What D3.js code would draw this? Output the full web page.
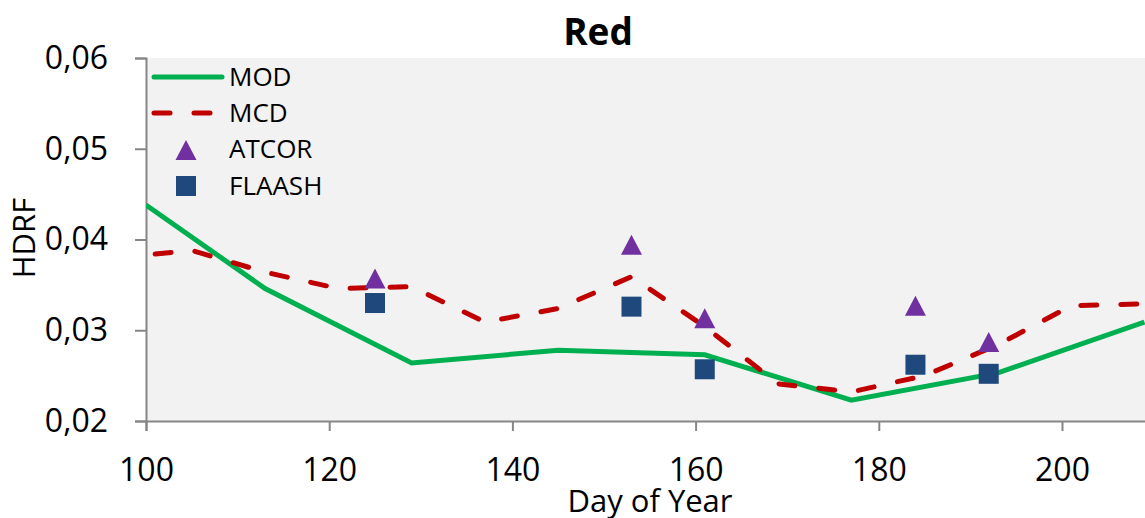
<!DOCTYPE html>
<html>
<head>
<meta charset="utf-8">
<script src="https://cdn.jsdelivr.net/npm/d3@7"></script>
<style>
  body { margin: 0; background: #fff; }
  svg { display: block; font-family: "Open Sans", sans-serif; }
</style>
</head>
<body>
<div class="svg-container"></div>
<script>
// MODIS product (MOD) - solid green
var modDays   = [100, 113, 129, 145, 161, 177, 193, 209];
var modValues = [0.0438, 0.0346, 0.0264, 0.0278, 0.0273, 0.0223, 0.0253, 0.0309];

// MCD product - dashed red
var mcdDays   = [101, 105, 113, 121, 129, 137, 145, 153, 161, 169, 177, 185, 193, 201, 209];
var mcdValues = [0.0384, 0.0388, 0.0364, 0.0346, 0.0348, 0.0309, 0.0324, 0.0359, 0.0304, 0.0241, 0.0232, 0.0250, 0.0284, 0.0327, 0.0329];

// atmospheric corrections
var atcorDays    = [125, 153, 161, 184, 192];
var atcorValues  = [0.0356, 0.0393, 0.0312, 0.0326, 0.0286];
var flaashDays   = [125, 153, 161, 184, 192];
var flaashValues = [0.0330, 0.0326, 0.0257, 0.0262, 0.0252];

var xTicks = [100, 120, 140, 160, 180, 200];
var yTicks = [0.02, 0.03, 0.04, 0.05, 0.06];

var width = 1145, height = 518;
var plotLeft = 146, plotTop = 58, plotBottom = 421;

var svg = d3.select(".svg-container").append("svg")
  .attr("width", width)
  .attr("height", height);

var x = d3.scaleLinear().domain([100, 210]).range([plotLeft, plotLeft + 110 * 9.16]);
var y = d3.scaleLinear().domain([0.02, 0.06]).range([plotBottom, plotTop]);

// plot background
svg.append("rect")
  .attr("x", plotLeft).attr("y", plotTop)
  .attr("width", x(210) - plotLeft).attr("height", plotBottom - plotTop)
  .attr("fill", "#f2f2f2");

svg.append("clipPath").attr("id", "clip")
  .append("rect")
  .attr("x", plotLeft).attr("y", plotTop)
  .attr("width", x(210) - plotLeft).attr("height", plotBottom - plotTop);

// axes
var fmt = function(d) { return d3.format(".2f")(d).replace(".", ","); };

svg.append("g")
  .attr("transform", "translate(" + plotLeft + ",0)")
  .call(d3.axisLeft(y).tickValues(yTicks).tickFormat(fmt).tickSize(11).tickPadding(27));

svg.append("g")
  .attr("transform", "translate(0," + plotBottom + ")")
  .call(d3.axisBottom(x).tickValues(xTicks).tickFormat(d3.format("d")).tickSize(10).tickPadding(27));

svg.selectAll(".domain, .tick line")
  .attr("stroke", "#868686")
  .attr("stroke-width", 2);
svg.selectAll(".tick text")
  .attr("fill", "#000")
  .attr("font-size", 32)
  .attr("font-family", "'Open Sans', sans-serif");

// Title
svg.append("text")
  .attr("x", 598).attr("y", 45)
  .style("text-anchor", "middle")
  .style("font-size", "37px")
  .style("font-weight", "bold")
  .text("Red");

// Axis labels
svg.append("text")
  .attr("x", 650).attr("y", 512)
  .style("text-anchor", "middle")
  .style("font-size", "31px")
  .text("Day of Year");

svg.append("text")
  .attr("transform", "rotate(-90)")
  .attr("x", -238).attr("y", 35)
  .style("text-anchor", "middle")
  .style("font-size", "31px")
  .text("HDRF");

// Lines
var plot = svg.append("g").attr("clip-path", "url(#clip)");

var line = d3.line()
  .x(function(d) { return x(d[0]); })
  .y(function(d) { return y(d[1]); });

plot.append("path")
  .datum(d3.zip(modDays, modValues))
  .attr("d", line)
  .attr("fill", "none")
  .attr("stroke", "#00b050")
  .attr("stroke-width", 5);

plot.append("path")
  .datum(d3.zip(mcdDays, mcdValues))
  .attr("d", line)
  .attr("fill", "none")
  .attr("stroke", "#c00000")
  .attr("stroke-width", 5)
  .attr("stroke-linecap", "round")
  .attr("stroke-dasharray", "16,24");

// Markers
plot.selectAll(".atcor")
  .data(d3.zip(atcorDays, atcorValues))
  .enter().append("path")
  .attr("class", "atcor")
  .attr("transform", function(d) { return "translate(" + x(d[0]) + "," + y(d[1]) + ")"; })
  .attr("d", "M0,-11L10.5,9L-10.5,9Z")
  .attr("fill", "#7030a0");

plot.selectAll(".flaash")
  .data(d3.zip(flaashDays, flaashValues))
  .enter().append("rect")
  .attr("class", "flaash")
  .attr("x", function(d) { return x(d[0]) - 10; })
  .attr("y", function(d) { return y(d[1]) - 10; })
  .attr("width", 20).attr("height", 20)
  .attr("fill", "#1f497d");

// Legend
var legend = svg.append("g").style("font-size", "26px");
var lx = 152, tx = 229;

legend.append("line")
  .attr("x1", lx + 2).attr("x2", lx + 70)
  .attr("y1", 77).attr("y2", 77)
  .attr("stroke", "#00b050").attr("stroke-width", 5).attr("stroke-linecap", "round");
legend.append("line")
  .attr("x1", lx + 2).attr("x2", lx + 70)
  .attr("y1", 113).attr("y2", 113)
  .attr("stroke", "#c00000").attr("stroke-width", 5).attr("stroke-linecap", "round")
  .attr("stroke-dasharray", "16,24");
legend.append("path")
  .attr("transform", "translate(186,151)")
  .attr("d", "M0,-11L10.5,9L-10.5,9Z")
  .attr("fill", "#7030a0");
legend.append("rect")
  .attr("x", 176).attr("y", 176).attr("width", 20).attr("height", 20)
  .attr("fill", "#1f497d");

var names = ["MOD", "MCD", "ATCOR", "FLAASH"];
var baselines = [86, 122, 158, 195];
legend.selectAll(".lt")
  .data(names)
  .enter().append("text")
  .attr("class", "lt")
  .attr("x", tx)
  .attr("y", function(d, i) { return baselines[i]; })
  .text(function(d) { return d; });
</script>
</body>
</html>
